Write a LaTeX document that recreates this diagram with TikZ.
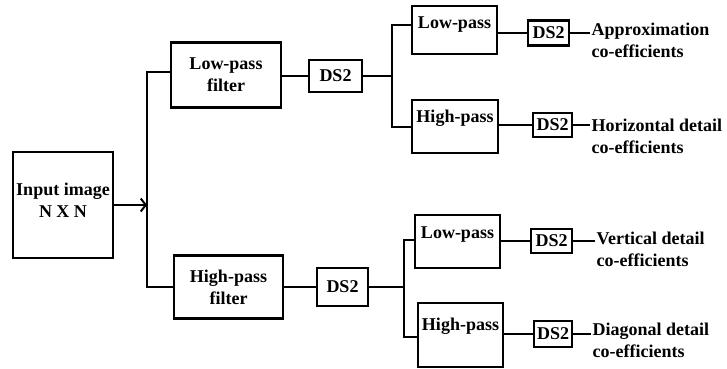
\documentclass[tikz,border=0pt]{standalone}
\usepackage{fontspec}
\setmainfont{Liberation Serif}
\usetikzlibrary{arrows.meta}
\newcommand{\diafont}{\fontsize{18}{22}\selectfont\bfseries}
\begin{document}
\begin{tikzpicture}[x=1pt,y=-1pt,
  box/.style={draw, line width=2.2pt, inner sep=0pt},
  dsbox/.style={draw, line width=2.6pt, inner sep=0pt, font=\diafont},
  txt/.style={align=center, inner sep=0pt, font=\diafont},
  lbl/.style={align=left, inner sep=1.5pt, anchor=west, font=\diafont},
  wire/.style={line width=2pt}]
\useasboundingbox (0,0) rectangle (727,368);

% input
\node[box, minimum width=100pt, minimum height=106pt] (in) at (63,205) {};
\node[txt] (intxt) at (63,200) {Input image\\N X N};

% first level
\node[box, txt, minimum width=110pt, minimum height=65pt] (lpf) at (226,75) {Low-pass\\filter};
\node[box, txt, minimum width=109pt, minimum height=63pt] (hpf) at (228.5,287) {High-pass\\filter};
\node[dsbox, minimum width=53pt, minimum height=32pt] (ds1) at (335.5,76) {DS2};
\node[dsbox, minimum width=51pt, minimum height=38pt] (ds2) at (342.5,287) {DS2};

\coordinate (j0) at (147,205);
\coordinate (j0u) at (147,72);
\coordinate (j0d) at (147,287);
\draw[wire,-{Straight Barb[length=5pt,width=13pt]}] (in.east |- j0) -- (j0);
\draw[wire] (lpf.west |- j0u) -- (j0u) -- (j0d) -- (hpf.west |- j0d);
\draw[wire] (lpf.east) -- (ds1.west -| lpf.east) -- (ds1.west);
\draw[wire] (hpf.east) -- (ds2.west);

% second level, top
\node[box, minimum width=85pt, minimum height=48pt] (lp2) at (454.5,30) {};
\node[txt] (lp2t) at (454.5,25) {Low-pass};
\node[box, minimum width=86pt, minimum height=53pt] (hp2) at (455,126.5) {};
\node[txt] (hp2t) at (455,118) {High-pass};
\node[dsbox, minimum width=41pt, minimum height=25pt] (ds3) at (548.5,33) {DS2};
\node[dsbox, minimum width=39pt, minimum height=24pt] (ds4) at (552.5,125) {DS2};

\coordinate (b1) at (392,76);
\coordinate (b1u) at (392,25);
\coordinate (b1d) at (392,127);
\draw[wire] (ds1.east) -- (b1);
\draw[wire] (lp2.west |- b1u) -- (b1u) -- (b1d) -- (hp2.west |- b1d);
\draw[wire] (ds3.west -| lp2.east) -- (ds3.west);
\draw[wire] (ds4.west -| hp2.east) -- (ds4.west);

\node[lbl] (l1) at (590,40) {Approximation\\co-efficients};
\node[lbl] (l2) at (590,136) {Horizontal detail\\co-efficients};
\draw[wire] (ds3.east) -- (ds3.east -| l1.west);
\draw[wire] (ds4.east) -- (ds4.east -| l2.west);

% second level, bottom
\node[box, minimum width=85pt, minimum height=53pt] (lp3) at (457.5,241.5) {};
\node[txt] (lp3t) at (457.5,235) {Low-pass};
\node[box, minimum width=85pt, minimum height=64pt] (hp3) at (460.5,335) {};
\node[txt] (hp3t) at (460.5,326) {High-pass};
\node[dsbox, minimum width=41pt, minimum height=24pt] (ds5) at (551.5,241) {DS2};
\node[dsbox, minimum width=38pt, minimum height=26pt] (ds6) at (553,334) {DS2};

\coordinate (b2) at (404,287);
\coordinate (b2u) at (404,240);
\coordinate (b2d) at (404,337);
\draw[wire] (ds2.east) -- (b2);
\draw[wire] (lp3.west |- b2u) -- (b2u) -- (b2d) -- (hp3.west |- b2d);
\draw[wire] (ds5.west -| lp3.east) -- (ds5.west);
\draw[wire] (ds6.west -| hp3.east) -- (ds6.west);

\node[lbl] (l3) at (595,249) {Vertical detail\\co-efficients};
\node[lbl] (l4) at (591,340) {Diagonal detail\\co-efficients};
\draw[wire] (ds5.east) -- (ds5.east -| l3.west);
\draw[wire] (ds6.east) -- (ds6.east -| l4.west);
\end{tikzpicture}
\end{document}
